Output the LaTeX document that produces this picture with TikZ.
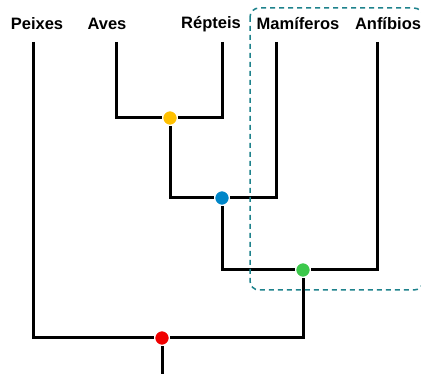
\documentclass[tikz,border=0pt]{standalone}
\usepackage{fontspec}
\setmainfont{Liberation Sans}
\usepackage{tikz}

\definecolor{noamarelo}{RGB}{255,192,0}
\definecolor{noazul}{RGB}{0,134,200}
\definecolor{noverde}{RGB}{60,200,75}
\definecolor{novermelho}{RGB}{240,0,0}
\definecolor{caixateal}{RGB}{30,130,140}

\tikzset{
  ramo/.style={line width=3pt, black},
  no/.style={circle, draw=white, line width=1.5pt, inner sep=0pt, minimum size=15pt},
  rotulo/.style={font=\bfseries\fontsize{16.5}{18}\selectfont, inner sep=0pt},
}

\begin{document}
\begin{tikzpicture}[x=1pt, y=-1pt]
   \useasboundingbox (0,0) rectangle (421,374);

   % nomes
   \node[rotulo] (tpe) at (37,24) {Peixes};
   \node[rotulo] (tav) at (107,24) {Aves};
   \node[rotulo] (tre) at (211,24) {Répteis};
   \node[rotulo] (tma) at (298,24) {Mamíferos};
   \node[rotulo] (tan) at (388,24) {Anfíbios};

   % pontas dos ramos
   \coordinate (pe) at (33,42);
   \coordinate (av) at (116,42);
   \coordinate (re) at (222,42);
   \coordinate (ma) at (276,42);
   \coordinate (an) at (377,42);
   \coordinate (raiz) at (162,380);

   % ancestrais
   \node[no, fill=noamarelo] (n1) at (170,118) {};
   \node[no, fill=noazul] (n2) at (222,198) {};
   \node[no, fill=noverde] (n3) at (303,270) {};
   \node[no, fill=novermelho] (n4) at (162,338) {};

   \draw[ramo] (av) |- (n1);
   \draw[ramo] (re) |- (n1);
   \draw[ramo] (n1) |- (n2);
   \draw[ramo] (ma) |- (n2);
   \draw[ramo] (n2) |- (n3);
   \draw[ramo] (an) |- (n3);
   \draw[ramo] (n3) |- (n4);
   \draw[ramo] (pe) |- (n4);
   \draw[ramo] (n4) -- (raiz);

   % grupo destacado
   \draw[caixateal, line width=1.5pt, dash pattern=on 5pt off 4pt, rounded corners=9pt]
     (250,8) rectangle (423,290);
\end{tikzpicture}
\end{document}
